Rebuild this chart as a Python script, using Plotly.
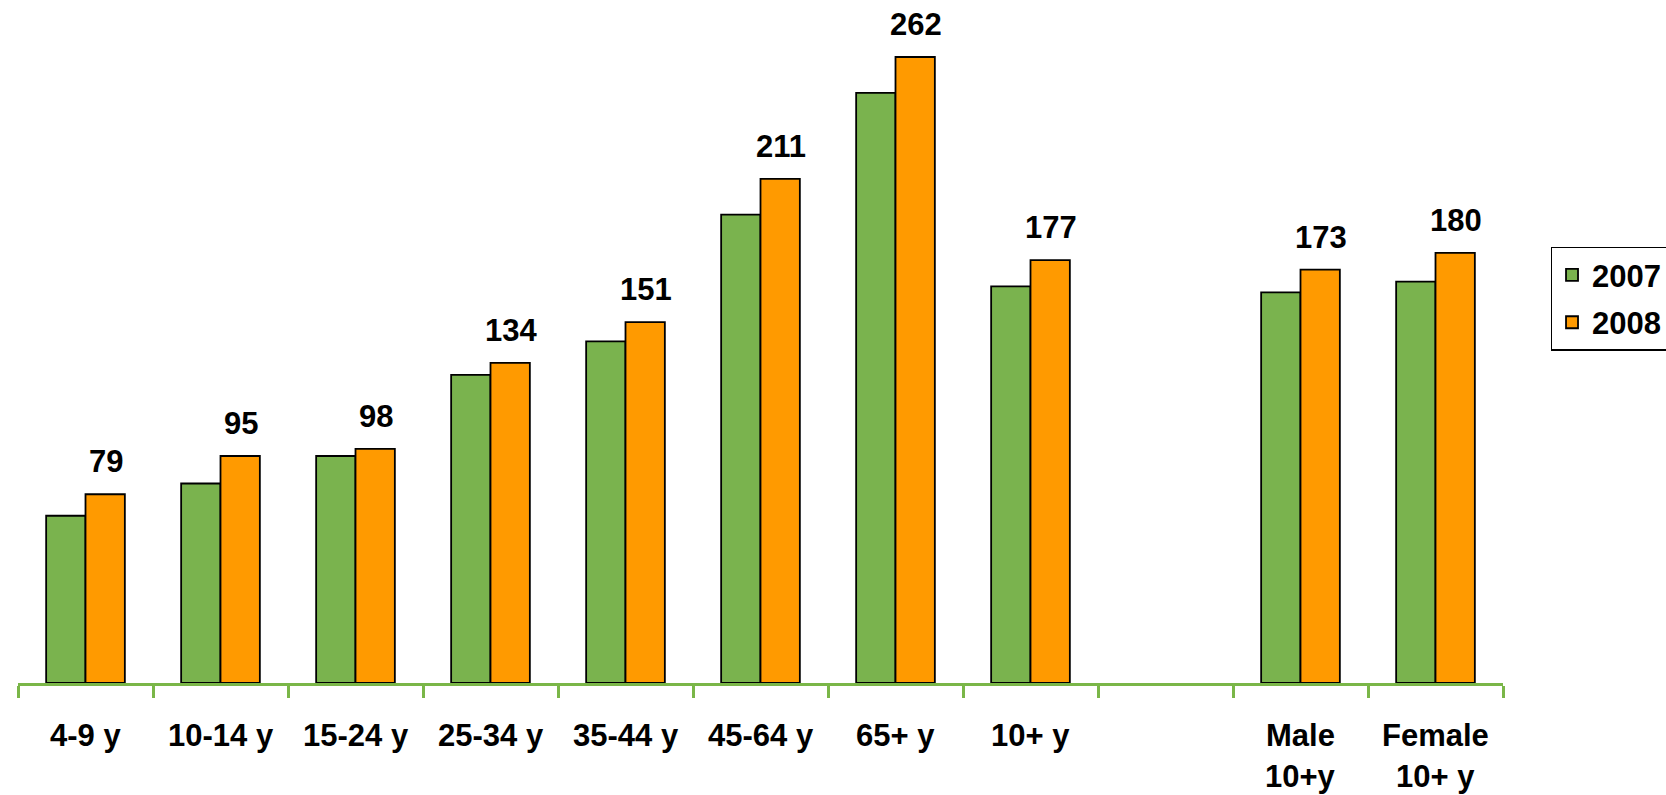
import plotly.graph_objects as go

categories = ["4-9 y", "10-14 y", "15-24 y", "25-34 y", "35-44 y", "45-64 y", "65+ y", "10+ y", " ", "Male", "Female"]
second_line = ["", "", "", "", "", "", "", "", "", "10+y", "10+ y"]
values_2007 = [70, 83.5, 95, 129, 143, 196, 247, 166, None, 163.5, 168]
values_2008 = [79, 95, 98, 134, 151, 211, 262, 177, None, 173, 180]

GREEN = "#7AB34E"
ORANGE = "#FF9A00"
AXIS_GREEN = "#7AB648"
FONT = "Liberation Sans, Arial, sans-serif"
FS = 31

fig = go.Figure()
fig.add_trace(go.Bar(x=categories, y=values_2007, name="2007", marker=dict(color=GREEN, line=dict(color="black", width=1.8)), legendgroup="a"))
fig.add_trace(go.Bar(x=categories, y=values_2008, name="2008", marker=dict(color=ORANGE, line=dict(color="black", width=1.8)), legendgroup="b"))

annotations = []
for c, v in zip(categories, values_2008):
    if v is None:
        continue
    annotations.append(dict(x=c, y=v, xref="x", yref="y", text=str(v), showarrow=False,
                            xshift=20, yshift=13, yanchor="bottom",
                            font=dict(family=FONT, size=FS, color="black", weight="bold")))
for c, s in zip(categories, second_line):
    annotations.append(dict(x=c, y=0, xref="x", yref="paper", text=c, showarrow=False,
                            yshift=-52, yanchor="middle",
                            font=dict(family=FONT, size=FS, color="black", weight="bold")))
    if s:
        annotations.append(dict(x=c, y=0, xref="x", yref="paper", text=s, showarrow=False,
                                yshift=-93, yanchor="middle",
                                font=dict(family=FONT, size=FS, color="black", weight="bold")))

fig.update_layout(
    width=1666, height=795,
    margin=dict(l=18, r=163, t=14, b=112, autoexpand=False),
    paper_bgcolor="white", plot_bgcolor="white",
    barmode="group", bargap=0.417, bargroupgap=0,
    showlegend=True,
    legend=dict(x=1.032, y=0.652, xanchor="left", yanchor="top",
                bordercolor="black", borderwidth=1.5, bgcolor="white",
                font=dict(family=FONT, size=FS, color="black", weight="bold"),
                traceorder="grouped", tracegroupgap=4, itemwidth=30),
    annotations=annotations,
    xaxis=dict(type="category", showticklabels=False, showline=True, linecolor=AXIS_GREEN, linewidth=3,
               ticks="outside", tickson="boundaries", ticklen=12, tickwidth=3, tickcolor=AXIS_GREEN,
               showgrid=False, zeroline=False),
    yaxis=dict(range=[0, 280], visible=False, showgrid=False, zeroline=False),
)
fig.write_html("out.html")
